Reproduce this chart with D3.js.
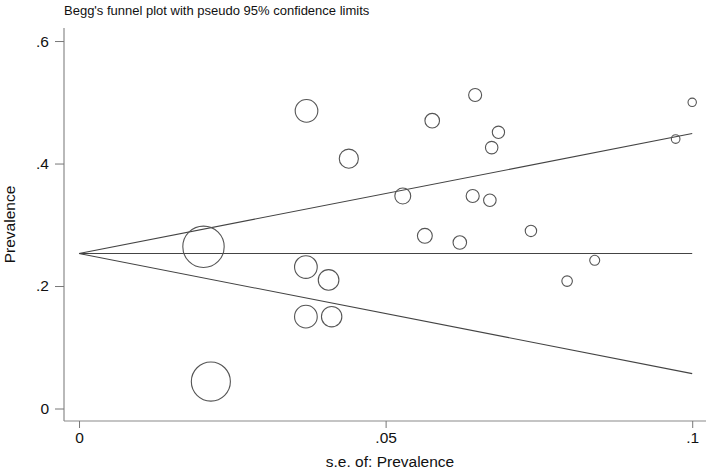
<!DOCTYPE html>
<html>
<head>
<meta charset="utf-8">
<script src="https://cdn.jsdelivr.net/npm/d3@7"></script>
<style>
  html, body { margin: 0; padding: 0; background: #fff; }
  svg { display: block; font-family: "Liberation Sans", Arial, sans-serif; }
</style>
</head>
<body>
<svg id="chart" width="709" height="471"></svg>
<script>
// Study standard errors (x) and prevalences (y)
const studySE = [0.0203, 0.0215, 0.0371, 0.0370, 0.0407, 0.0370, 0.0412, 0.0440, 0.0528, 0.0576, 0.0646,
                 0.0684, 0.0673, 0.1000, 0.0973, 0.0642, 0.0670, 0.0564, 0.0621, 0.0737, 0.0841, 0.0796];
const studyPrev = [0.264, 0.044, 0.486, 0.231, 0.210, 0.150, 0.150, 0.408, 0.347, 0.470, 0.512,
                   0.451, 0.426, 0.500, 0.440, 0.347, 0.340, 0.282, 0.271, 0.290, 0.242, 0.208];
const pooledEstimate = 0.253;
const seRange = [0, 0.1];
const xTicks = [0, 0.05, 0.1];
const xTickLabels = ["0", ".05", ".1"];
const yTicks = [0, 0.2, 0.4, 0.6];
const yTickLabels = ["0", ".2", ".4", ".6"];
const titleText = "Begg's funnel plot with pseudo 95% confidence limits";
const xTitle = "s.e. of: Prevalence";
const yTitle = "Prevalence";

(function () {
const svg = d3.select("#chart");
const pLeft = 64, pRight = 706, pTop = 28, pBottom = 421;
const fs = 15.5;

const x = d3.scaleLinear().domain([-0.00245, 0.10225]).range([pLeft, pRight]);
const y = d3.scaleLinear().domain([-0.0204, 0.6213]).range([pBottom, pTop]);
const weight = se => 1 / (se * se);
const r = d3.scaleSqrt().domain([0, 2500]).range([0, 21]);

// Title
svg.append("text").attr("x", 64).attr("y", 15)
  .attr("font-size", 13).attr("fill", "#111").text(titleText);

// Axes
const yAxis = d3.axisLeft(y).tickValues(yTicks)
  .tickFormat((d, i) => yTickLabels[i]).tickSize(9).tickPadding(6);
const gy = svg.append("g").attr("transform", `translate(${pLeft},0)`).call(yAxis);
gy.select(".domain").attr("d", `M0,${pTop}V${pBottom}`);

const xAxis = d3.axisBottom(x).tickValues(xTicks)
  .tickFormat((d, i) => xTickLabels[i]).tickSize(7).tickPadding(4);
const gx = svg.append("g").attr("transform", `translate(0,${pBottom})`).call(xAxis);
gx.select(".domain").attr("d", `M${pLeft},0H${pRight}`);

[gx, gy].forEach(g => {
  g.selectAll(".domain").attr("stroke", "#8a8a8a").attr("stroke-width", 1.2);
  g.selectAll(".tick line").attr("stroke", "#777").attr("stroke-width", 1);
  g.selectAll(".tick text").attr("font-size", fs).attr("fill", "#111")
    .attr("font-family", "Liberation Sans, Arial, sans-serif");
});

// Axis titles
svg.append("text").attr("x", (pLeft + pRight) / 2 + 5).attr("y", 467)
  .attr("text-anchor", "middle").attr("font-size", fs).attr("fill", "#111").text(xTitle);
svg.append("text").attr("transform", `translate(15,${(pTop + pBottom) / 2}) rotate(-90)`)
  .attr("text-anchor", "middle").attr("font-size", fs).attr("fill", "#111").text(yTitle);

// Funnel lines
const line = d3.line().x(d => x(d[0])).y(d => y(d[1]));
const z = 1.96;
const funnel = [
  [[seRange[0], pooledEstimate], [seRange[1], pooledEstimate + z * seRange[1]]],
  [[seRange[0], pooledEstimate], [seRange[1], pooledEstimate]],
  [[seRange[0], pooledEstimate], [seRange[1], pooledEstimate - z * seRange[1]]]
];
svg.append("g").selectAll("path").data(funnel).join("path")
  .attr("d", line).attr("fill", "none").attr("stroke", "#444").attr("stroke-width", 1.1);

// Study markers
const studies = studySE.map((se, i) => ({ se, p: studyPrev[i] }));
svg.append("g").selectAll("circle").data(studies).join("circle")
  .attr("cx", d => x(d.se)).attr("cy", d => y(d.p))
  .attr("r", d => r(weight(d.se)))
  .attr("fill", "none").attr("stroke", "#555").attr("stroke-width", 1.1);
})();
</script>
</body>
</html>
